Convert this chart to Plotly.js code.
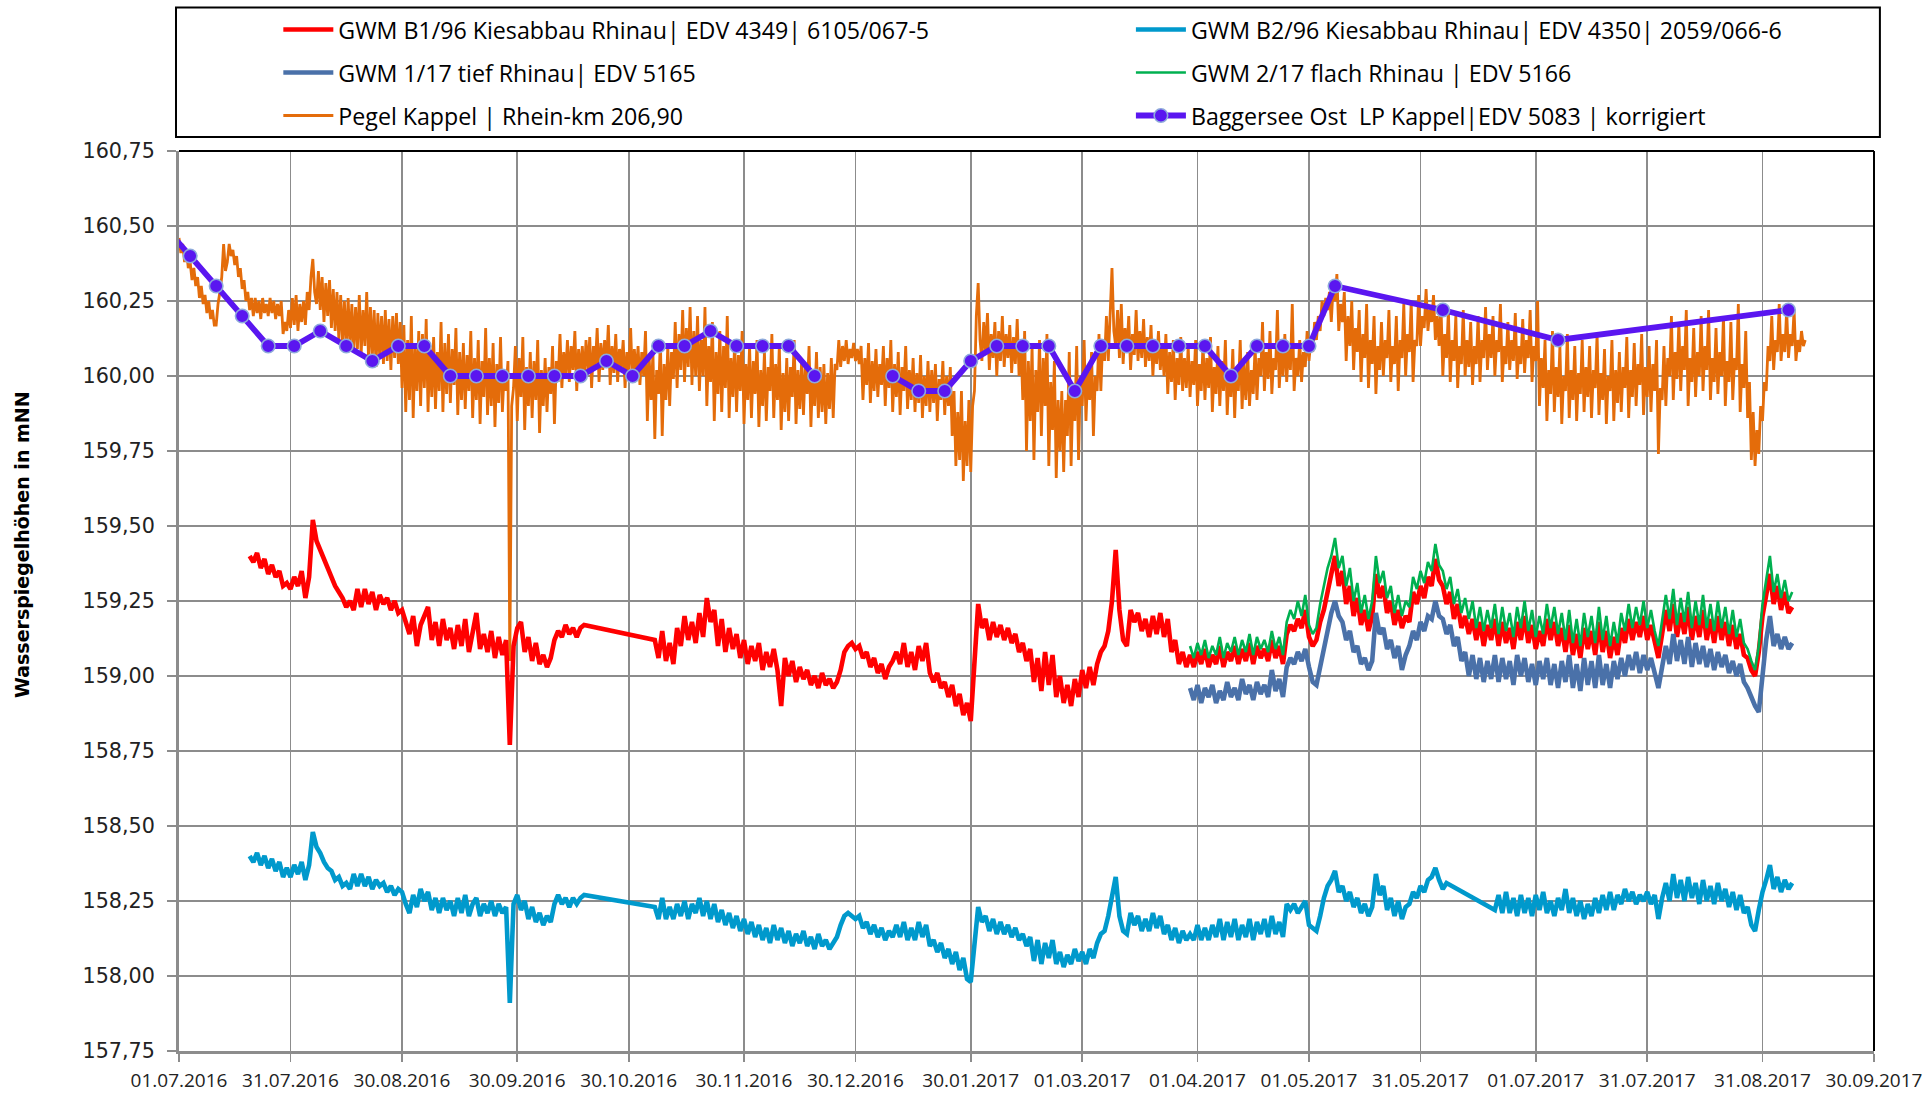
<!DOCTYPE html>
<html><head><meta charset="utf-8">
<script src="https://cdn.plot.ly/plotly-3.0.1.min.js"></script>
<style>html,body{margin:0;padding:0;background:#fff;}#chart{width:1932px;height:1096px;}</style>
</head><body><div id="chart"></div>
<script>
// ---------- names ----------
const nameB1 = 'GWM B1/96 Kiesabbau Rhinau| EDV 4349| 6105/067-5';
const nameB2 = 'GWM B2/96 Kiesabbau Rhinau| EDV 4350| 2059/066-6';
const nameTief = 'GWM 1/17 tief Rhinau| EDV 5165';
const nameFlach = 'GWM 2/17 flach Rhinau | EDV 5166';
const namePegel = 'Pegel Kappel | Rhein-km 206,90';
const nameSee = 'Baggersee Ost  LP Kappel|EDV 5083 | korrigiert';

// ---------- axis ticks ----------
const xTickDates = ['2016-07-01','2016-07-31','2016-08-30','2016-09-30','2016-10-30','2016-11-30','2016-12-30','2017-01-30','2017-03-01','2017-04-01','2017-05-01','2017-05-31','2017-07-01','2017-07-31','2017-08-31','2017-09-30'];
const xTickLabels = ['01.07.2016','31.07.2016','30.08.2016','30.09.2016','30.10.2016','30.11.2016','30.12.2016','30.01.2017','01.03.2017','01.04.2017','01.05.2017','31.05.2017','01.07.2017','31.07.2017','31.08.2017','30.09.2017'];
const yRange = [157.75, 160.75];

// ---------- Pegel Kappel: two readings per day (00:00, 12:00) from the start date ----------
const pegelStart = '2016-07-01';
const pegelValues = [
160.46,160.41,160.44,160.38,160.42,160.36,160.38,160.32,160.36,160.30,160.33,160.26,160.30,160.24,160.27,160.21,160.25,160.19,160.22,160.17,
160.17,160.24,160.28,160.33,160.44,160.35,160.38,160.44,160.40,160.42,160.37,160.40,160.33,160.36,160.29,160.32,160.25,160.28,160.22,160.26,
160.20,160.26,160.21,160.25,160.19,160.26,160.21,160.24,160.20,160.26,160.21,160.25,160.19,160.24,160.20,160.25,160.14,160.18,160.15,160.22,
160.16,160.26,160.17,160.27,160.15,160.24,160.18,160.25,160.17,160.28,160.22,160.33,160.39,160.28,160.24,160.35,160.22,160.33,160.18,160.31,
160.20,160.32,160.16,160.29,160.15,160.28,160.12,160.27,160.11,160.25,160.09,160.26,160.10,160.24,160.08,160.23,160.09,160.27,160.07,160.22,
160.10,160.28,160.05,160.23,160.06,160.22,160.03,160.21,160.06,160.20,160.04,160.22,160.05,160.19,160.02,160.20,160.06,160.21,160.04,160.18,
159.96,160.17,159.88,160.12,159.92,160.20,159.86,160.10,159.95,160.15,159.90,160.14,159.96,160.19,159.88,160.10,159.93,160.13,159.89,160.08,
159.95,160.18,159.88,160.11,159.94,160.14,159.91,160.09,159.97,160.16,159.87,160.08,159.92,160.11,159.89,160.07,159.95,160.15,159.86,160.06,
159.92,160.12,159.84,160.05,159.93,160.16,159.87,160.06,159.90,160.11,159.83,160.04,159.91,160.13,159.88,160.02,159.95,160.05,159.05,159.90,
159.96,160.10,159.85,160.06,159.93,160.13,159.82,160.03,159.90,160.08,159.86,160.05,159.92,160.12,159.81,160.02,159.90,160.06,159.88,160.03,
159.94,160.10,159.84,160.05,159.98,160.14,159.96,160.08,160.00,160.12,159.98,160.10,160.02,160.15,159.95,160.09,160.01,160.10,159.99,160.12,
160.02,160.13,159.96,160.10,160.03,160.16,159.98,160.11,160.02,160.12,160.04,160.17,159.97,160.10,160.01,160.14,159.98,160.09,160.03,160.12,
159.96,160.08,160.02,160.16,159.98,160.09,160.00,160.10,159.97,160.08,160.00,160.15,159.85,160.06,159.92,160.08,159.79,160.02,159.94,160.12,
159.80,160.04,159.92,160.10,159.90,160.08,159.99,160.18,159.96,160.14,160.02,160.22,159.98,160.16,160.03,160.23,159.97,160.15,160.00,160.20,
159.95,160.12,160.00,160.23,159.90,160.10,159.98,160.18,159.85,160.08,159.94,160.15,159.88,160.10,159.96,160.20,159.86,160.06,159.93,160.12,
159.88,160.07,159.95,160.15,159.84,160.04,159.92,160.10,159.86,160.05,159.94,160.12,159.83,160.02,159.90,160.08,159.85,160.03,159.95,160.14,
159.86,160.04,159.92,160.10,159.82,160.01,159.88,160.06,159.85,160.03,159.93,160.12,159.84,160.02,159.89,160.05,159.87,160.04,159.94,160.10,
159.83,160.02,159.90,160.08,159.86,160.03,159.88,160.04,159.84,160.01,159.89,160.06,159.86,160.04,160.02,160.12,160.03,160.10,160.05,160.12,
160.04,160.09,160.06,160.11,160.05,160.09,160.04,160.10,159.92,160.06,159.97,160.11,159.91,160.05,159.95,160.09,159.93,160.04,159.97,160.10,
159.90,160.06,159.96,160.12,159.88,160.04,159.93,160.08,159.87,160.03,159.95,160.10,159.89,160.02,159.92,160.06,159.88,160.01,159.91,160.07,
159.86,160.00,159.90,160.05,159.88,160.02,159.91,160.04,159.85,159.99,159.92,160.05,159.87,160.00,159.90,160.03,159.80,159.95,159.70,159.88,
159.72,159.95,159.65,159.85,159.70,159.92,159.68,159.90,159.95,160.20,160.31,160.12,160.05,160.18,160.08,160.21,160.02,160.14,160.06,160.18,
160.00,160.15,160.05,160.20,160.03,160.14,160.06,160.17,160.01,160.13,160.04,160.19,160.00,160.12,159.92,160.15,159.75,160.05,159.85,160.10,
159.72,160.02,159.88,160.12,159.80,160.06,159.90,160.14,159.70,159.98,159.82,160.05,159.66,159.92,159.75,159.95,159.68,159.92,159.80,160.08,
159.70,159.96,159.85,160.10,159.72,160.00,159.90,160.12,159.85,160.02,159.92,160.08,159.80,160.00,159.95,160.14,159.95,160.12,160.05,160.20,
160.05,160.18,160.36,160.15,160.10,160.22,160.06,160.24,160.04,160.16,160.08,160.20,160.02,160.14,160.07,160.22,160.05,160.15,160.06,160.19,
160.03,160.13,160.05,160.17,160.00,160.12,160.04,160.15,160.02,160.11,160.00,160.14,159.94,160.08,159.98,160.12,159.92,160.06,159.97,160.13,
159.95,160.06,159.96,160.10,159.93,160.05,159.97,160.12,159.90,160.04,159.95,160.11,159.92,160.06,159.96,160.13,159.88,160.03,159.94,160.10,
159.90,160.05,159.95,160.12,159.87,160.02,159.93,160.09,159.86,160.03,159.95,160.12,159.89,160.04,159.92,160.08,159.90,160.02,159.94,160.10,
159.92,160.06,160.00,160.18,159.95,160.08,159.99,160.15,159.94,160.06,160.02,160.22,159.96,160.08,160.00,160.14,159.98,160.10,160.02,160.24,
159.95,160.06,160.00,160.12,159.98,160.08,160.03,160.15,160.05,160.12,160.08,160.18,160.12,160.20,160.15,160.25,160.20,160.26,160.22,160.28,
160.18,160.30,160.25,160.34,160.15,160.24,160.18,160.28,160.05,160.20,160.10,160.25,160.02,160.16,160.08,160.22,159.98,160.14,160.06,160.24,
159.96,160.12,160.04,160.20,159.94,160.10,160.02,160.18,160.00,160.12,160.06,160.22,159.98,160.10,160.04,160.20,159.95,160.12,160.06,160.24,
160.00,160.14,160.08,160.25,159.98,160.12,160.10,160.27,160.10,160.20,160.16,160.29,160.15,160.22,160.18,160.27,160.12,160.20,160.10,160.24,
160.00,160.14,160.06,160.22,159.98,160.12,160.05,160.20,159.96,160.10,160.04,160.22,160.00,160.12,160.03,160.18,159.97,160.10,160.04,160.20,
159.98,160.12,160.06,160.23,160.02,160.14,160.06,160.20,160.00,160.12,160.08,160.24,159.98,160.10,160.04,160.18,160.02,160.12,160.05,160.21,
159.99,160.10,160.04,160.19,160.01,160.12,160.06,160.22,159.98,160.10,160.05,160.25,159.90,160.06,159.96,160.12,159.85,160.02,159.94,160.15,
159.88,160.03,159.93,160.10,159.84,160.00,159.95,160.14,159.86,160.02,159.92,160.10,159.85,160.01,159.94,160.12,159.88,160.03,159.93,160.10,
159.86,160.02,159.96,160.14,159.87,160.01,159.92,160.09,159.84,160.00,159.95,160.12,159.85,160.02,159.91,160.08,159.88,160.03,159.96,160.13,
159.86,160.02,159.93,160.11,159.90,160.04,159.97,160.14,159.87,160.03,159.93,160.10,159.88,160.04,159.95,160.12,159.74,159.96,159.92,160.10,
159.90,160.06,160.00,160.20,159.92,160.08,159.99,160.18,159.95,160.10,160.02,160.22,159.90,160.06,159.98,160.16,159.93,160.08,160.00,160.20,
159.95,160.10,160.02,160.22,159.92,160.06,159.98,160.16,159.94,160.08,160.00,160.20,159.90,160.05,159.98,160.18,159.92,160.06,160.02,160.24,
159.88,160.04,159.96,160.15,159.86,159.98,159.72,159.88,159.70,159.82,159.74,159.90,159.85,159.98,159.95,160.10,160.05,160.20,160.02,160.12,
160.08,160.24,160.05,160.14,160.08,160.22,160.06,160.14,160.10,160.22,160.05,160.12,160.08,160.15,160.10,160.12
];

// ---------- groundwater wells: one reading per day from the start date (null = no reading) ----------
const b1Start = '2016-07-20';
const b1Values = [
159.40,
159.38,159.41,159.36,159.39,159.34,159.37,159.33,159.35,159.30,159.31,
159.29,159.33,159.30,159.35,159.26,159.33,159.52,159.45,159.42,159.38,
159.36,159.33,159.30,159.28,159.26,159.23,159.25,159.22,159.29,159.23,
159.29,159.24,159.28,159.22,159.27,159.24,159.26,159.22,159.25,159.21,
159.22,159.18,159.14,159.20,159.10,159.17,159.20,159.23,159.12,159.18,
159.10,159.19,159.12,159.16,159.09,159.17,159.10,159.19,159.08,159.15,
159.21,159.09,159.14,159.08,159.15,159.06,159.13,159.07,159.12,158.77,
159.10,159.16,159.18,159.08,159.13,159.05,159.11,159.04,159.07,159.03,
159.06,159.12,159.15,159.13,159.17,159.14,159.16,159.13,159.16,159.17,
null,null,null,null,null,null,null,null,null,null,
null,null,null,null,null,null,null,null,159.12,159.06,
159.15,159.05,159.11,159.04,159.16,159.10,159.20,159.12,159.18,159.11,
159.21,159.13,159.26,159.18,159.22,159.10,159.19,159.08,159.16,159.09,
159.14,159.06,159.12,159.04,159.10,159.05,159.11,159.02,159.08,159.03,
159.09,159.02,158.90,159.06,159.00,159.05,158.98,159.03,158.99,159.02,
158.97,159.00,158.96,159.01,158.97,158.99,158.96,158.98,159.02,159.08,
159.10,159.11,159.09,159.10,159.06,159.08,159.03,159.06,159.01,159.04,
158.99,159.03,159.05,159.08,159.04,159.11,159.03,159.08,159.02,159.10,
159.05,159.11,159.01,158.98,159.01,158.96,158.98,158.93,158.97,158.90,
158.94,158.87,158.91,158.85,159.05,159.24,159.16,159.19,159.12,159.18,
159.13,159.17,159.12,159.16,159.11,159.14,159.08,159.11,159.05,159.09,
158.98,159.06,158.95,159.08,158.97,159.07,158.93,159.00,158.91,158.97,
158.90,158.99,158.93,159.02,158.96,159.03,158.97,159.04,159.08,159.10,
159.15,159.25,159.42,159.22,159.12,159.10,159.22,159.18,159.21,159.15,
159.19,159.13,159.20,159.14,159.21,159.13,159.19,159.08,159.12,159.04,
159.08,159.03,159.07,159.03,159.08,159.04,159.09,159.03,159.07,159.04,
159.10,159.03,159.08,159.05,159.10,159.04,159.09,159.05,159.11,159.04,
159.10,159.06,159.09,159.05,159.12,159.06,159.10,159.04,159.14,159.17,
159.15,159.19,159.16,159.22,159.13,159.10,159.12,159.18,159.22,159.28,
159.33,159.40,159.30,159.35,159.24,159.30,159.20,159.26,159.17,159.22,
159.15,159.20,159.34,159.26,159.30,159.21,159.25,159.17,159.22,159.16,
159.20,159.18,159.28,159.24,159.30,159.26,159.33,159.30,159.39,159.32,
159.30,159.24,159.28,159.19,159.24,159.16,159.20,159.14,159.19,159.12,
159.18,159.10,159.17,159.12,159.19,159.10,159.18,159.11,159.16,159.09,
159.18,159.12,159.20,159.11,159.17,159.09,159.15,159.10,159.19,159.12,
159.18,159.10,159.16,159.08,159.17,159.07,159.14,159.06,159.16,159.09,
159.15,159.07,159.18,159.08,159.15,159.06,159.13,159.07,159.16,159.11,
159.19,159.12,159.18,159.13,159.20,159.12,159.17,159.11,159.06,159.14,
159.22,159.15,159.24,159.13,159.21,159.14,159.23,159.12,159.20,159.13,
159.22,159.12,159.19,159.11,159.20,159.12,159.18,159.10,159.17,159.09,
159.14,159.07,159.06,159.02,159.00,159.08,159.20,159.27,159.34,159.24,
159.30,159.22,159.28,159.21,159.23
];

const b2Start = '2016-07-20';
const b2Values = [
158.40,
158.38,158.41,158.37,158.40,158.36,158.39,158.35,158.38,158.33,158.36,
158.33,158.37,158.34,158.38,158.32,158.37,158.48,158.43,158.41,158.38,
158.36,158.35,158.32,158.33,158.30,158.31,158.29,158.34,158.30,158.34,
158.30,158.33,158.29,158.32,158.30,158.31,158.28,158.30,158.27,158.29,
158.28,158.24,158.21,158.27,158.23,158.29,158.25,158.28,158.22,158.26,
158.21,158.26,158.22,158.25,158.20,158.26,158.21,158.27,158.20,158.24,
158.26,158.20,158.24,158.21,158.25,158.20,158.24,158.21,158.23,157.91,
158.24,158.27,158.22,158.25,158.19,158.23,158.18,158.21,158.17,158.20,
158.18,158.24,158.27,158.24,158.26,158.23,158.26,158.24,158.26,158.27,
null,null,null,null,null,null,null,null,null,null,
null,null,null,null,null,null,null,null,158.23,158.19,
158.26,158.19,158.23,158.19,158.24,158.20,158.25,158.19,158.24,158.21,
158.26,158.20,158.25,158.19,158.24,158.18,158.22,158.17,158.21,158.16,
158.20,158.15,158.19,158.14,158.18,158.13,158.17,158.12,158.16,158.11,
158.17,158.12,158.16,158.11,158.15,158.10,158.14,158.11,158.15,158.10,
158.13,158.09,158.14,158.10,158.12,158.09,158.11,158.13,158.17,158.20,
158.21,158.20,158.19,158.20,158.16,158.18,158.14,158.17,158.13,158.16,
158.12,158.15,158.13,158.17,158.13,158.18,158.12,158.16,158.12,158.18,
158.13,158.17,158.10,158.12,158.08,158.11,158.06,158.09,158.04,158.08,
158.02,158.06,157.99,157.98,158.10,158.23,158.18,158.20,158.15,158.19,
158.14,158.18,158.14,158.17,158.13,158.16,158.12,158.14,158.10,158.13,
158.05,158.12,158.04,158.11,158.06,158.12,158.04,158.08,158.03,158.07,
158.04,158.09,158.05,158.08,158.04,158.09,158.06,158.11,158.14,158.15,
158.20,158.26,158.33,158.20,158.15,158.14,158.21,158.17,158.20,158.15,
158.19,158.15,158.21,158.16,158.20,158.14,158.17,158.12,158.16,158.11,
158.15,158.12,158.14,158.12,158.17,158.12,158.16,158.12,158.17,158.13,
158.19,158.12,158.18,158.13,158.19,158.12,158.17,158.13,158.19,158.12,
158.18,158.14,158.19,158.13,158.20,158.14,158.18,158.13,158.24,158.22,
158.24,158.21,158.23,158.25,158.17,158.16,158.15,158.20,158.26,158.30,
158.32,158.35,158.28,158.30,158.25,158.28,158.23,158.26,158.21,158.24,
158.20,158.23,158.34,158.27,158.30,158.22,158.26,158.20,158.25,158.19,
158.23,158.24,158.28,158.26,158.30,158.28,158.32,158.33,158.36,158.32,
158.29,158.31,null,null,null,null,null,null,null,null,
null,null,null,null,158.22,158.27,158.21,158.28,158.21,158.26,
158.20,158.27,158.21,158.26,158.20,158.27,158.22,158.28,158.21,158.25,
158.20,158.26,158.22,158.29,158.21,158.26,158.20,158.25,158.19,158.24,
158.20,158.26,158.21,158.27,158.22,158.28,158.22,158.27,158.24,158.29,
158.25,158.28,158.24,158.27,158.25,158.28,158.24,158.27,158.19,158.26,
158.31,158.25,158.34,158.26,158.32,158.25,158.33,158.26,158.31,158.24,
158.32,158.25,158.30,158.24,158.31,158.25,158.29,158.23,158.28,158.22,
158.27,158.21,158.23,158.17,158.15,158.22,158.28,158.32,158.37,158.29,
158.33,158.28,158.32,158.29,158.31
];

const tiefStart = '2017-03-30';
const tiefValues = [
158.96,158.92,158.97,158.91,158.96,158.93,158.97,158.91,
158.95,158.92,158.98,158.93,158.96,158.92,158.99,158.94,158.97,158.92,
158.98,158.94,158.97,158.93,159.02,158.95,158.99,158.93,159.03,159.06,
159.04,159.08,159.05,159.09,159.03,158.98,158.97,159.03,159.10,159.16,
159.21,159.25,159.20,159.18,159.12,159.15,159.08,159.10,159.04,159.06,
159.02,159.05,159.21,159.14,159.16,159.09,159.12,159.06,159.10,159.02,
159.07,159.10,159.15,159.12,159.18,159.15,159.20,159.19,159.25,159.20,
159.19,159.14,159.17,159.10,159.13,159.05,159.08,159.00,159.07,158.99,
159.06,158.98,159.05,158.99,159.07,158.98,159.06,158.99,159.05,158.97,
159.07,159.00,159.06,158.98,159.04,158.97,159.05,158.99,159.06,158.97,
159.04,158.96,159.05,158.98,159.07,158.96,159.04,158.95,159.06,158.97,
159.05,158.96,159.07,158.97,159.04,158.96,159.05,158.99,159.06,159.00,
159.07,159.02,159.08,159.01,159.07,159.02,159.06,159.01,158.96,159.03,
159.10,159.04,159.14,159.05,159.12,159.04,159.13,159.03,159.11,159.04,
159.10,159.03,159.09,159.02,159.08,159.03,159.07,159.01,159.05,159.00,
159.04,158.98,158.96,158.93,158.90,158.88,159.00,159.12,159.20,159.10,
159.14,159.09,159.13,159.09,159.11
];

const flachStart = '2017-03-30';
const flachValues = [
159.10,159.06,159.11,159.07,159.12,159.06,159.10,159.07,
159.13,159.06,159.11,159.08,159.13,159.07,159.12,159.08,159.14,159.07,
159.13,159.09,159.12,159.08,159.15,159.09,159.13,159.07,159.18,159.22,
159.19,159.25,159.20,159.27,159.17,159.14,159.16,159.24,159.30,159.36,
159.40,159.46,159.36,159.40,159.30,159.36,159.25,159.31,159.21,159.27,
159.19,159.25,159.40,159.31,159.35,159.26,159.30,159.21,159.27,159.20,
159.25,159.23,159.33,159.29,159.35,159.31,159.38,159.35,159.44,159.37,
159.35,159.29,159.33,159.24,159.29,159.21,159.26,159.19,159.25,159.16,
159.23,159.15,159.22,159.16,159.24,159.14,159.23,159.15,159.21,159.13,
159.23,159.16,159.25,159.15,159.22,159.13,159.20,159.14,159.24,159.16,
159.23,159.14,159.21,159.12,159.22,159.11,159.19,159.10,159.21,159.13,
159.20,159.11,159.23,159.12,159.20,159.10,159.18,159.11,159.21,159.15,
159.24,159.16,159.23,159.17,159.25,159.16,159.22,159.15,159.10,159.18,
159.27,159.19,159.29,159.17,159.26,159.18,159.28,159.16,159.25,159.17,
159.27,159.16,159.24,159.15,159.25,159.16,159.23,159.14,159.22,159.13,
159.19,159.11,159.09,159.05,159.02,159.10,159.24,159.32,159.40,159.28,
159.34,159.26,159.32,159.25,159.28
];

// ---------- weekly / irregular lake readings (null = no reading, line broken) ----------
const seeDates = ['2016-06-27','2016-07-04','2016-07-11','2016-07-18','2016-07-25','2016-08-01','2016-08-08','2016-08-15','2016-08-22','2016-08-29','2016-09-05','2016-09-12','2016-09-19','2016-09-26','2016-10-03','2016-10-10','2016-10-17','2016-10-24','2016-10-31','2016-11-07','2016-11-14','2016-11-21','2016-11-28','2016-12-05','2016-12-12','2016-12-19','2016-12-26',
'2017-01-09','2017-01-16','2017-01-23','2017-01-30','2017-02-06','2017-02-13','2017-02-20','2017-02-27','2017-03-06','2017-03-13','2017-03-20','2017-03-27','2017-04-03','2017-04-10','2017-04-17','2017-04-24','2017-05-01','2017-05-08','2017-06-06','2017-07-07','2017-09-07'];
const seeValues = [160.50,160.40,160.30,160.20,160.10,160.10,160.15,160.10,160.05,160.10,160.10,160.00,160.00,160.00,160.00,160.00,160.00,160.05,160.00,160.10,160.10,160.15,160.10,160.10,160.10,160.00,null,
160.00,159.95,159.95,160.05,160.10,160.10,160.10,159.95,160.10,160.10,160.10,160.10,160.10,160.00,160.10,160.10,160.10,160.30,160.22,160.12,160.22];

// ---------- styles ----------
const DAY_MS = 86400000;
const HALF_DAY_MS = 43200000;
const legendFont = {family: 'Open Sans, sans-serif', size: 23.2, color: '#000000'};
const col1 = 0.0586, col2 = 0.5616;
const row1 = 1.1345, row2 = 1.0868, row3 = 1.0390;
function leg(x, y) {
  return {x: x, y: y, xanchor: 'left', yanchor: 'middle', orientation: 'v', bgcolor: 'rgba(0,0,0,0)',
          borderwidth: 0, font: legendFont, itemwidth: 50, itemclick: false, itemdoubleclick: false};
}

const traces = [
  {name: namePegel, type: 'scatter', mode: 'lines', x0: pegelStart, dx: HALF_DAY_MS, y: pegelValues,
   line: {color: '#e46c0a', width: 2.8}, legend: 'legend5'},
  {name: nameB1, type: 'scatter', mode: 'lines', x0: b1Start, dx: DAY_MS, y: b1Values, connectgaps: true,
   line: {color: '#ff0000', width: 4.6}, legend: 'legend'},
  {name: nameB2, type: 'scatter', mode: 'lines', x0: b2Start, dx: DAY_MS, y: b2Values, connectgaps: true,
   line: {color: '#0099cc', width: 4.6}, legend: 'legend2'},
  {name: nameTief, type: 'scatter', mode: 'lines', x0: tiefStart, dx: DAY_MS, y: tiefValues,
   line: {color: '#4a71a9', width: 4.6}, legend: 'legend3'},
  {name: nameFlach, type: 'scatter', mode: 'lines', x0: flachStart, dx: DAY_MS, y: flachValues,
   line: {color: '#00b050', width: 2.6}, legend: 'legend4'},
  {name: nameSee, type: 'scatter', mode: 'lines+markers', x: seeDates, y: seeValues, connectgaps: false,
   line: {color: '#5a16f0', width: 5.8},
   marker: {size: 13.5, color: '#5a16f0', line: {color: '#8eaadb', width: 1.6}}, legend: 'legend6'}
];

const layout = {
  width: 1932, height: 1096,
  margin: {l: 179, r: 58, t: 151, b: 45, autoexpand: false},
  paper_bgcolor: '#ffffff', plot_bgcolor: '#ffffff',
  separators: ',.',
  font: {family: 'Open Sans, sans-serif', color: '#222'},
  showlegend: true,
  hovermode: false,
  xaxis: {
    type: 'date', range: [xTickDates[0], xTickDates[xTickDates.length - 1]],
    tickmode: 'array', tickvals: xTickDates, ticktext: xTickLabels,
    showgrid: true, gridcolor: '#8c8c8c', gridwidth: 1.8,
    showline: true, linecolor: '#8c8c8c', linewidth: 3,
    ticks: 'outside', ticklen: 8, tickwidth: 1.8, tickcolor: '#8c8c8c',
    ticklabelstandoff: 2,
    tickfont: {family: 'Open Sans, sans-serif', size: 19, color: '#222'},
    zeroline: false, fixedrange: true, automargin: false
  },
  yaxis: {
    range: yRange, tickmode: 'linear', tick0: 157.75, dtick: 0.25, tickformat: '.2f',
    showgrid: true, gridcolor: '#8c8c8c', gridwidth: 1.8,
    showline: true, linecolor: '#8c8c8c', linewidth: 3,
    ticks: 'outside', ticklen: 9, tickwidth: 1.8, tickcolor: '#8c8c8c',
    ticklabelstandoff: 8,
    tickfont: {family: 'DejaVu Sans, sans-serif', size: 20.7, color: '#222'},
    zeroline: false, fixedrange: true, automargin: false
  },
  legend: leg(col1, row1),
  legend2: leg(col2, row1),
  legend3: leg(col1, row2),
  legend4: leg(col2, row2),
  legend5: leg(col1, row3),
  legend6: leg(col2, row3),
  shapes: [
    {type: 'rect', xref: 'paper', yref: 'paper', x0: -0.00177, x1: 1.00348, y0: 1.01556, y1: 1.15933,
     line: {color: '#000000', width: 2}, fillcolor: 'rgba(0,0,0,0)'},
    {type: 'line', xref: 'paper', yref: 'paper', x0: 0, x1: 1, y0: 1, y1: 1, line: {color: '#000000', width: 2}},
    {type: 'line', xref: 'paper', yref: 'paper', x0: 1, x1: 1, y0: 0, y1: 1, line: {color: '#000000', width: 2}}
  ],
  annotations: [
    {text: '<b>Wasserspiegelhöhen in mNN</b>', xref: 'paper', yref: 'paper', x: -0.0925, y: 0.5624,
     xanchor: 'center', yanchor: 'middle', textangle: -90, showarrow: false,
     font: {family: 'DejaVu Sans, sans-serif', size: 19, color: '#000000'}}
  ]
};

Plotly.newPlot('chart', traces, layout, {displayModeBar: false, staticPlot: true});
</script>
</body></html>
